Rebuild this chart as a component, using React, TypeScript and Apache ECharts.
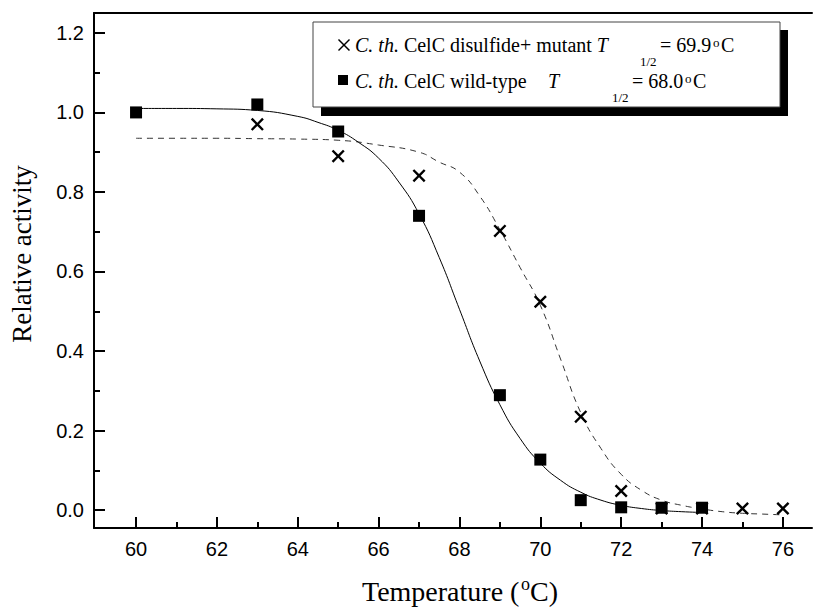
import React, { useEffect, useRef } from 'react';
import * as echarts from 'echarts';

// Measured points
const wildTemps = [60, 63, 65, 67, 69, 70, 71, 72, 73, 74];
const wildActivity = [1.0, 1.02, 0.952, 0.74, 0.289, 0.127, 0.025, 0.007, 0.006, 0.006];
const mutantTemps = [63, 65, 67, 69, 70, 71, 72, 73, 74, 75, 76];
const mutantActivity = [0.97, 0.89, 0.841, 0.702, 0.524, 0.235, 0.048, 0.004, 0.004, 0.004, 0.004];

// Fitted curves
const wildFitTemps = [60, 61, 62, 63, 64, 64.5, 65, 65.5, 66, 66.5, 67, 67.5, 68, 68.5, 69, 69.5, 70, 70.5, 71, 71.5, 72, 72.5, 73, 73.5, 74];
const wildFitValues = [1.01, 1.01, 1.009, 1.005, 0.99, 0.975, 0.955, 0.925, 0.885, 0.825, 0.745, 0.635, 0.505, 0.375, 0.265, 0.18, 0.118, 0.075, 0.045, 0.025, 0.012, 0.004, -0.001, -0.004, -0.006];
const mutantFitTemps = [60, 61, 62, 63, 64, 65, 66, 67, 67.5, 68, 68.5, 69, 69.5, 70, 70.5, 71, 71.5, 72, 72.5, 73, 73.5, 74, 74.5, 75, 75.5, 76];
const mutantFitValues = [0.935, 0.935, 0.935, 0.934, 0.933, 0.93, 0.918, 0.9, 0.875, 0.85, 0.79, 0.705, 0.61, 0.515, 0.38, 0.245, 0.155, 0.09, 0.05, 0.025, 0.012, 0.003, -0.004, -0.008, -0.01, -0.012];

// Ticks
const xMajorTicks = [60, 62, 64, 66, 68, 70, 72, 74, 76];
const xMinorTicks = [61, 63, 65, 67, 69, 71, 73, 75];
const yMajorTicks = [0, 0.2, 0.4, 0.6, 0.8, 1.0, 1.2];
const yMinorTicks = [0.1, 0.3, 0.5, 0.7, 0.9, 1.1];

const SERIF = '"Liberation Serif", "Times New Roman", serif';
const SANS = '"Liberation Sans", Arial, sans-serif';
const CROSS = 'path://M0,1.3L1.3,0L5,3.7L8.7,0L10,1.3L6.3,5L10,8.7L8.7,10L5,6.3L1.3,10L0,8.7L3.7,5Z';

const zip = (xs: number[], ys: number[]) => xs.map((x, i) => [x, ys[i]]);

export default function App() {
  const ref = useRef<HTMLDivElement>(null);
  useEffect(() => {
    if (!ref.current) return;
    const chart = echarts.init(ref.current, null, { renderer: 'svg' });
    const X_MIN = 58.96, X_MAX = 76.72, Y_MIN = -0.045, Y_MAX = 1.25;
    const baseX = {
      type: 'value', min: X_MIN, max: X_MAX, position: 'bottom',
      splitLine: { show: false },
    };
    const baseY = {
      type: 'value', min: Y_MIN, max: Y_MAX, position: 'left',
      splitLine: { show: false },
    };
    const txt = (o: any) => ({ type: 'text', z: 100, ...o });
    const legendText = (x: number, y: number, text: string, size = 20, extra: any = {}) =>
      txt({ z: 102, x, y, style: { text, fill: '#000', fontSize: size, fontFamily: SERIF, align: 'left', verticalAlign: 'middle', ...extra } });
    const rich = { i: { fontStyle: 'italic', fontSize: 20, fontFamily: SERIF } };
    chart.setOption({
      animation: false,
      backgroundColor: '#fff',
      grid: { left: 94, right: 1, top: 13, bottom: 79, containLabel: false, outerBoundsMode: 'none' },
      xAxis: [
        {
          ...baseX,
          axisLine: { show: true, onZero: false, lineStyle: { color: '#000', width: 2 } },
          axisTick: { show: true, inside: true, length: 11, customValues: xMajorTicks, lineStyle: { color: '#000', width: 2 } },
          axisLabel: { show: true, customValues: xMajorTicks, margin: 11, color: '#000', fontSize: 20, fontFamily: SANS, formatter: (v: number) => String(v) },
        },
        {
          ...baseX,
          axisLine: { show: false, onZero: false },
          axisTick: { show: true, inside: true, length: 6, customValues: xMinorTicks, lineStyle: { color: '#000', width: 2 } },
          axisLabel: { show: false },
        },
        {
          ...baseX, position: 'top',
          axisLine: { show: true, onZero: false, lineStyle: { color: '#000', width: 2 } },
          axisTick: { show: false },
          axisLabel: { show: false },
        },
      ],
      yAxis: [
        {
          ...baseY,
          axisLine: { show: true, onZero: false, lineStyle: { color: '#000', width: 2 } },
          axisTick: { show: true, inside: true, length: 11, customValues: yMajorTicks, lineStyle: { color: '#000', width: 2 } },
          axisLabel: { show: true, customValues: yMajorTicks, margin: 10, color: '#000', fontSize: 20, fontFamily: SANS, formatter: (v: number) => v.toFixed(1) },
        },
        {
          ...baseY,
          axisLine: { show: false, onZero: false },
          axisTick: { show: true, inside: true, length: 6, customValues: yMinorTicks, lineStyle: { color: '#000', width: 2 } },
          axisLabel: { show: false },
        },
      ],
      series: [
        {
          type: 'line', data: zip(mutantFitTemps, mutantFitValues), smooth: true, showSymbol: false,
          lineStyle: { color: '#333', width: 1, type: [6, 5] }, z: 2,
        },
        {
          type: 'line', data: zip(wildFitTemps, wildFitValues), smooth: true, showSymbol: false,
          lineStyle: { color: '#000', width: 1 }, z: 2,
        },
        {
          type: 'scatter', data: zip(mutantTemps, mutantActivity), symbol: CROSS, symbolSize: 13,
          itemStyle: { color: '#000', opacity: 1 }, z: 3,
        },
        {
          type: 'scatter', data: zip(wildTemps, wildActivity), symbol: 'rect', symbolSize: 12,
          itemStyle: { color: '#000', opacity: 1 }, z: 4,
        },
      ],
      graphic: [
        { type: 'rect', z: 100, shape: { x: 321, y: 30, width: 467, height: 86 }, style: { fill: '#000' } },
        { type: 'rect', z: 101, shape: { x: 313, y: 22, width: 467, height: 85 }, style: { fill: '#fff', stroke: '#444', lineWidth: 1 } },
        { type: 'line', z: 102, shape: { x1: 338.5, y1: 39.5, x2: 349.5, y2: 50.5 }, style: { stroke: '#000', lineWidth: 1.5 } },
        { type: 'line', z: 102, shape: { x1: 349.5, y1: 39.5, x2: 338.5, y2: 50.5 }, style: { stroke: '#000', lineWidth: 1.5 } },
        { type: 'rect', z: 102, shape: { x: 338, y: 75, width: 10, height: 10 }, style: { fill: '#000' } },
        legendText(355, 44.5, '{i|C. th.} CelC disulfide+ mutant {i|T}', 20, { rich }),
        legendText(640, 61, '1/2', 13),
        legendText(660, 44.5, '= 69.9', 20),
        legendText(713, 42, 'o', 13),
        legendText(721, 44.5, 'C', 20),
        legendText(355, 80.5, '{i|C. th.} CelC wild-type', 20, { rich }),
        legendText(548, 80.5, 'T', 20, { fontStyle: 'italic' }),
        legendText(612, 97, '1/2', 13),
        legendText(632, 80.5, '= 68.0', 20),
        legendText(685, 78, 'o', 13),
        legendText(693, 80.5, 'C', 20),
        // axis names
        txt({ x: 22, y: 254, rotation: Math.PI / 2, style: { text: 'Relative activity', fill: '#000', fontSize: 27, fontFamily: SERIF, align: 'center', verticalAlign: 'middle' } }),
        txt({ x: 362, y: 591.5, style: { text: 'Temperature (', fill: '#000', fontSize: 28, fontFamily: SERIF, align: 'left', verticalAlign: 'middle' } }),
        txt({ x: 521, y: 584, style: { text: 'o', fill: '#000', fontSize: 18, fontFamily: SERIF, align: 'left', verticalAlign: 'middle' } }),
        txt({ x: 530, y: 591.5, style: { text: 'C)', fill: '#000', fontSize: 28, fontFamily: SERIF, align: 'left', verticalAlign: 'middle' } }),
      ],
    });
    return () => chart.dispose();
  }, []);
  return <div ref={ref} style={{ position: 'absolute', left: 0, top: 0, width: 813, height: 607 }} />;
}
